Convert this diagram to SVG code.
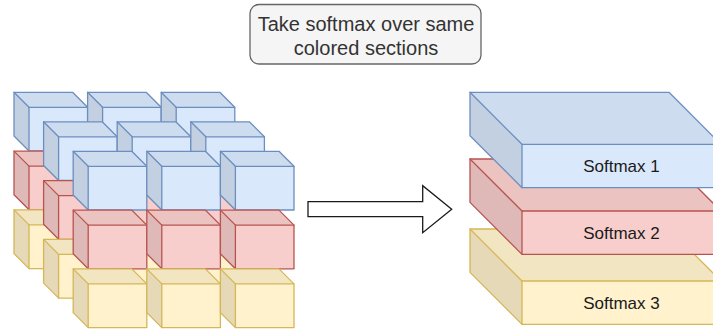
<svg xmlns="http://www.w3.org/2000/svg" xmlns:xlink="http://www.w3.org/1999/xlink" width="713" height="332" viewBox="0 0 713 332">
  <style>
    .base { stroke: none; }
    .shade1 { fill: #000000; fill-opacity: 0.05; stroke: none; }
    .shade2 { fill: #000000; fill-opacity: 0.1; stroke: none; }
    .edge { fill: none; stroke-width: 1.3; stroke-linejoin: round; stroke-linecap: round; }
    .blue { fill: #dae8fc; stroke: #6c8ebf; }
    .red { fill: #f8cecc; stroke: #b85450; }
    .yellow { fill: #fff2cc; stroke: #d6b656; }
    .label { font-family: "Liberation Sans", Arial, Helvetica, sans-serif; fill: #1a1a1a; stroke: none; text-anchor: middle; font-size: 17px; }
    .title { font-family: "Liberation Sans", Arial, Helvetica, sans-serif; fill: #333333; stroke: none; text-anchor: middle; font-size: 20px; }
  </style>
  <defs>
    <!-- small cube: 73.6 x 58.7, depth 15 -->
    <g id="cube">
      <polygon class="base" points="0,0 58.6,0 73.6,15 73.6,58.7 15,58.7 0,43.7"/>
      <polygon class="shade1" points="0,0 58.6,0 73.6,15 15,15"/>
      <polygon class="shade2" points="0,0 15,15 15,58.7 0,43.7"/>
      <polygon class="edge" points="0,0 58.6,0 73.6,15 73.6,58.7 15,58.7 0,43.7"/>
      <polyline class="edge" points="0,0 15,15 73.6,15"/>
      <line class="edge" x1="15" y1="15" x2="15" y2="58.7"/>
    </g>
    <!-- flat slab: 251 x 95.4, depth 52 -->
    <g id="slab">
      <polygon class="base" points="0,0 199,0 251,52 251,95.4 52,95.4 0,43.4"/>
      <polygon class="shade1" points="0,0 199,0 251,52 52,52"/>
      <polygon class="shade2" points="0,0 52,52 52,95.4 0,43.4"/>
      <polygon class="edge" points="0,0 199,0 251,52 251,95.4 52,95.4 0,43.4"/>
      <polyline class="edge" points="0,0 52,52 251,52"/>
      <line class="edge" x1="52" y1="52" x2="52" y2="95.4"/>
    </g>
  </defs>

  <!-- title note -->
  <g id="note">
    <rect x="250" y="4.5" width="231" height="59.5" rx="9" ry="9" fill="#f5f5f5" stroke="#666666" stroke-width="1.3"/>
    <text class="title" x="366" y="30.5">Take softmax over same</text>
    <text class="title" x="366" y="54.5">colored sections</text>
  </g>

  <!-- 3 x 3 x 3 block of cubes, drawn back row first -->
  <g id="cubes">
    <!-- back row -->
    <g id="cube-r0-l0-c0" class="blue"><use xlink:href="#cube" x="14" y="92.3"/></g>
    <g id="cube-r0-l0-c1" class="blue"><use xlink:href="#cube" x="87.6" y="92.3"/></g>
    <g id="cube-r0-l0-c2" class="blue"><use xlink:href="#cube" x="161.2" y="92.3"/></g>
    <g id="cube-r0-l1-c0" class="red"><use xlink:href="#cube" x="14" y="151.1"/></g>
    <g id="cube-r0-l1-c1" class="red"><use xlink:href="#cube" x="87.6" y="151.1"/></g>
    <g id="cube-r0-l1-c2" class="red"><use xlink:href="#cube" x="161.2" y="151.1"/></g>
    <g id="cube-r0-l2-c0" class="yellow"><use xlink:href="#cube" x="14" y="209.9"/></g>
    <g id="cube-r0-l2-c1" class="yellow"><use xlink:href="#cube" x="87.6" y="209.9"/></g>
    <g id="cube-r0-l2-c2" class="yellow"><use xlink:href="#cube" x="161.2" y="209.9"/></g>
    <!-- middle row -->
    <g id="cube-r1-l0-c0" class="blue"><use xlink:href="#cube" x="43.6" y="121.8"/></g>
    <g id="cube-r1-l0-c1" class="blue"><use xlink:href="#cube" x="117.2" y="121.8"/></g>
    <g id="cube-r1-l0-c2" class="blue"><use xlink:href="#cube" x="190.8" y="121.8"/></g>
    <g id="cube-r1-l1-c0" class="red"><use xlink:href="#cube" x="43.6" y="180.6"/></g>
    <g id="cube-r1-l1-c1" class="red"><use xlink:href="#cube" x="117.2" y="180.6"/></g>
    <g id="cube-r1-l1-c2" class="red"><use xlink:href="#cube" x="190.8" y="180.6"/></g>
    <g id="cube-r1-l2-c0" class="yellow"><use xlink:href="#cube" x="43.6" y="239.4"/></g>
    <g id="cube-r1-l2-c1" class="yellow"><use xlink:href="#cube" x="117.2" y="239.4"/></g>
    <g id="cube-r1-l2-c2" class="yellow"><use xlink:href="#cube" x="190.8" y="239.4"/></g>
    <!-- front row -->
    <g id="cube-r2-l0-c0" class="blue"><use xlink:href="#cube" x="73.2" y="151.3"/></g>
    <g id="cube-r2-l0-c1" class="blue"><use xlink:href="#cube" x="146.8" y="151.3"/></g>
    <g id="cube-r2-l0-c2" class="blue"><use xlink:href="#cube" x="220.4" y="151.3"/></g>
    <g id="cube-r2-l1-c0" class="red"><use xlink:href="#cube" x="73.2" y="210.1"/></g>
    <g id="cube-r2-l1-c1" class="red"><use xlink:href="#cube" x="146.8" y="210.1"/></g>
    <g id="cube-r2-l1-c2" class="red"><use xlink:href="#cube" x="220.4" y="210.1"/></g>
    <g id="cube-r2-l2-c0" class="yellow"><use xlink:href="#cube" x="73.2" y="268.9"/></g>
    <g id="cube-r2-l2-c1" class="yellow"><use xlink:href="#cube" x="146.8" y="268.9"/></g>
    <g id="cube-r2-l2-c2" class="yellow"><use xlink:href="#cube" x="220.4" y="268.9"/></g>
  </g>

  <!-- softmax result slabs, bottom one first so upper slabs overlap it -->
  <g id="softmax-3" class="yellow">
    <use xlink:href="#slab" x="470" y="229"/>
    <text class="label" x="621.5" y="308.7">Softmax 3</text>
  </g>
  <g id="softmax-2" class="red">
    <use xlink:href="#slab" x="470" y="159"/>
    <text class="label" x="621.5" y="238.7">Softmax 2</text>
  </g>
  <g id="softmax-1" class="blue">
    <use xlink:href="#slab" x="470" y="92.3"/>
    <text class="label" x="621.5" y="172">Softmax 1</text>
  </g>

  <!-- connectors -->
  <g id="connectors">
    <polygon id="arrow" points="308,201.7 422.7,201.7 422.7,185.7 451.7,209.3 422.7,232.7 422.7,216.7 308,216.7" fill="#ffffff" stroke="#1a1a1a" stroke-width="1.3" stroke-linejoin="miter"/>
  </g>
</svg>
